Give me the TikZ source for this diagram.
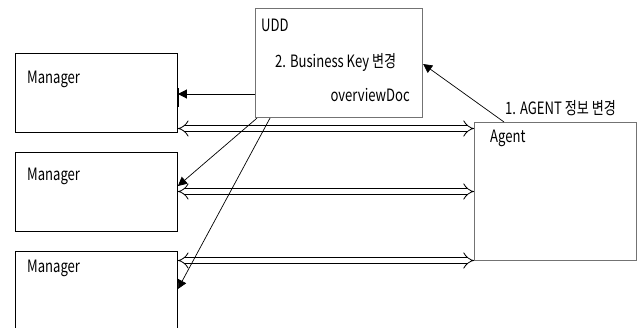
\documentclass[tikz,border=0pt]{standalone}
\usepackage{fontspec}
\setmainfont{Noto Sans CJK KR}[FakeStretch=0.77]
\usetikzlibrary{arrows.meta,calc}
\begin{document}
\begin{tikzpicture}[x=1pt,y=-1pt,
  mgr/.style={draw=black,line width=0.9pt,minimum width=162pt,minimum height=79pt,anchor=north west,inner sep=0pt},
  gbox/.style={draw=black!55,line width=1.1pt,anchor=north west,inner sep=0pt},
  lbl/.style={font=\fontsize{17}{19}\selectfont,inner sep=0pt},
  dbl/.style={double=white,double distance=5pt,line width=0.8pt,{Implies[length=3pt]}-{Implies[length=3pt]}},
  fa/.style={line width=0.7pt,-{Triangle[length=9pt,width=9pt]}}]
\clip (0,0) rectangle (644,327);
\node[mgr] (m1) at (15,53) {};
\node[mgr] (m2) at (15,152) {};
\node[mgr,minimum height=100pt] (m3) at (15,251) {};
\node[gbox,minimum width=167pt,minimum height=109pt] (udd) at (255,8) {};
\node[gbox,minimum width=162pt,minimum height=138pt] (agent) at (474,122) {};
% labels
\node[lbl,anchor=west] (t1) at (27,79) {Manager};
\node[lbl,anchor=west] (t2) at (27,176) {Manager};
\node[lbl,anchor=west] (t3) at (27,268) {Manager};
\node[lbl,anchor=west] (tu) at (261,25) {UDD};
\node[lbl,anchor=west] (tb) at (275,62) {2. Business Key 변경};
\node[lbl,anchor=east] (to) at (410,95) {overviewDoc};
\node[lbl,anchor=west] (ta) at (490,138) {Agent};
\node[lbl,anchor=west] (tg) at (505,108) {1. AGENT 정보 변경};
% double arrows
\draw[dbl] (m1.east |- 0,128.5) -- (agent.west |- 0,128.5);
\draw[dbl] (m2.east |- 0,191.5) -- (agent.west |- 0,191.5);
\draw[dbl] (m3.east |- 0,260.5) -- (agent.west |- 0,260.5);
% filled arrows
\draw[fa] (udd.west |- 0,94) -- (m1.east |- 0,94);
\draw[line width=2pt] (m1.east |- 0,88) -- (m1.east |- 0,107);
\coordinate (u1) at ($(udd.south west)+(2,0)$);
\coordinate (u2) at ($(udd.south west)+(15,0)$);
\draw[fa] (u1) -- (m2.east |- 0,186);
\draw[fa] (u2) -- (m3.east |- 0,289);
\coordinate (a1) at ($(agent.north west)+(30,0)$);
\draw[fa] (a1) -- (udd.east |- 0,64);
\end{tikzpicture}
\end{document}
